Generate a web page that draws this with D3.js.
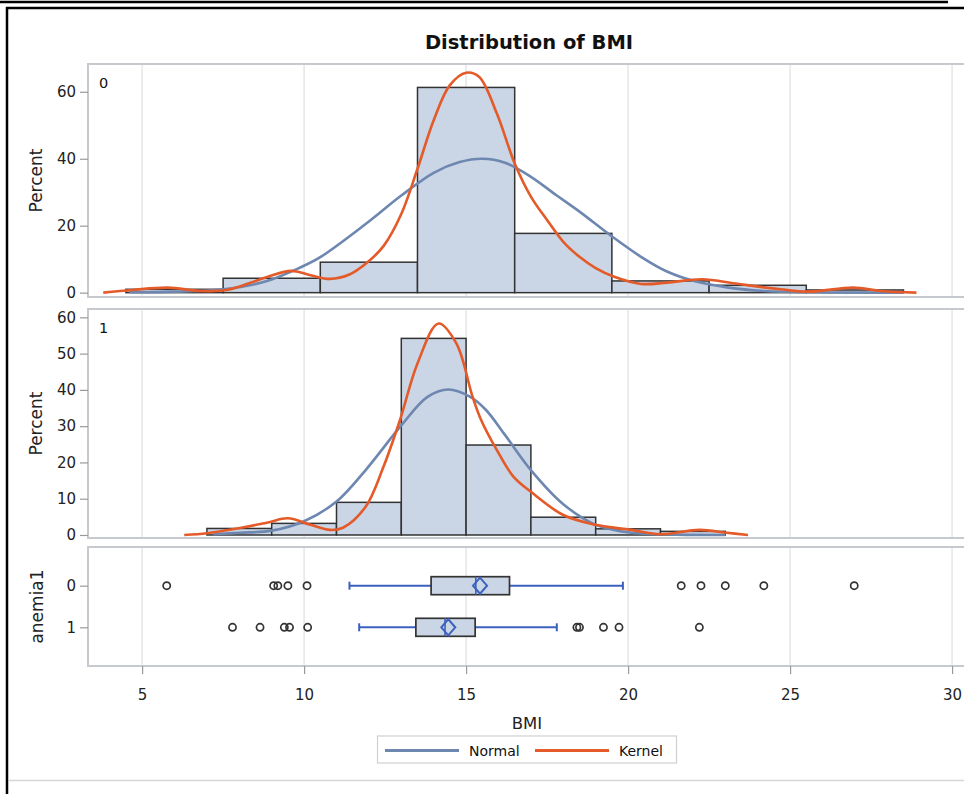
<!DOCTYPE html>
<html>
<head>
<meta charset="utf-8">
<script src="https://cdn.jsdelivr.net/npm/d3@7"></script>
<style>
  body { margin: 0; background: #fff; }
  text { font-family: "DejaVu Sans", sans-serif; fill: #222; }
</style>
</head>
<body>
<div id="chart"></div>
<script>
// histogram bins (BMI edges) and percents, per anemia1 group
const bins0 = [4.5, 7.5, 10.5, 13.5, 16.5, 19.5, 22.5, 25.5, 28.5];
const pct0 = [1.0, 4.3, 9.1, 61.3, 17.7, 3.5, 2.2, 0.8];
const bins1 = [7, 9, 11, 13, 15, 17, 19, 21, 23];
const pct1 = [1.8, 3.2, 9.0, 54.2, 24.8, 4.9, 1.7, 1.0];

// fitted curves: [BMI, percent]
const normal0 = [[4.6, 0.1], [6, 0.3], [7.5, 1.0], [8.8, 3.3], [9.9, 7.6], [10.5, 10.6], [11.9, 20.5],
  [13.0, 29.0], [14.0, 35.8], [14.8, 39.0], [15.5, 40.0], [16.2, 38.8], [17.0, 34.6], [17.8, 29.0],
  [18.5, 24.2], [19.5, 16.8], [20.4, 10.7], [21.2, 6.3], [22.1, 3.3], [23.1, 1.5], [24.2, 0.5], [25.7, 0.1], [28.5, 0]];
const kernel0 = [[3.8, 0], [4.7, 0.8], [5.8, 1.5], [6.8, 0.5], [7.6, 0.8], [8.3, 2.8], [8.9, 4.8], [9.6, 6.5],
  [10.2, 5.2], [10.8, 4.1], [11.4, 5.4], [11.9, 8.6], [12.45, 13.9], [13.0, 23.5], [13.5, 37.0], [14.0, 51.5],
  [14.5, 62], [15.0, 65.7], [15.4, 64.5], [15.95, 53.5], [16.5, 38.6], [17.0, 28.7], [17.5, 21.7], [18.0, 15.2],
  [18.5, 10.7], [19.0, 7.3], [19.55, 4.8], [20.4, 2.6], [21.2, 3.0], [22.3, 4.0], [23.25, 2.8], [24.7, 1.0],
  [25.6, 0.3], [26.95, 1.5], [27.8, 0.5], [28.9, 0]];
const normal1 = [[7.2, 0.2], [8.0, 0.6], [9.0, 1.2], [10.0, 3.8], [11.0, 9.2], [11.9, 17.9], [13.0, 30.2],
  [13.8, 38.0], [14.45, 40.1], [15.1, 38.2], [15.6, 34.6], [16.2, 27.6], [17.0, 17.9], [18.0, 8.5],
  [19.0, 2.8], [20.1, 0.6], [21.5, 0.1], [23.0, 0]];
const kernel1 = [[6.3, 0], [7.0, 0.5], [7.8, 1.6], [8.85, 3.4], [9.5, 4.6], [10.2, 2.8], [10.8, 1.4], [11.2, 2.0],
  [11.9, 7.8], [12.45, 18.8], [12.96, 31.7], [13.5, 47.3], [14.15, 58.3], [14.7, 52.8], [15.2, 38.1],
  [15.45, 32.0], [15.95, 23.4], [16.46, 16.1], [17.0, 11.9], [18.0, 5.5], [19.0, 2.8], [20.1, 1.4],
  [21.0, 0.2], [22.2, 1.4], [23.05, 0.6], [23.7, 0]];

// box plot stats by group
const groups = ["0", "1"];
const whiskLow = [11.4, 11.7];
const q1 = [13.92, 13.45];
const median = [15.3, 14.35];
const q3 = [16.34, 15.28];
const whiskHigh = [19.84, 17.8];
const means = [15.43, 14.45];
const outliers = [
  [5.76, 9.06, 9.19, 9.5, 10.09, 21.64, 22.25, 23.0, 24.19, 26.98],
  [7.79, 8.64, 9.39, 9.55, 10.11, 18.42, 18.5, 19.24, 19.72, 22.2]
];

const xTicks = [5, 10, 15, 20, 25, 30];
const yTicks0 = [0, 20, 40, 60];
const yTicks1 = [0, 10, 20, 30, 40, 50, 60];

const width = 964, height = 794;
const left = 88, right = 966;

const svg = d3.select("#chart").append("svg")
  .attr("width", width)
  .attr("height", height);

const x = d3.scaleLinear().domain([3.33, 30.43]).range([left, right]);

// page frame bits
svg.append("line").attr("x1", 0).attr("x2", 948).attr("y1", 2).attr("y2", 2)
  .attr("stroke", "#000").attr("stroke-width", 2.5);
svg.append("line").attr("x1", 6).attr("x2", width).attr("y1", 8).attr("y2", 8)
  .attr("stroke", "#000").attr("stroke-width", 2.5);
svg.append("line").attr("x1", 7).attr("x2", 7).attr("y1", 7).attr("y2", height)
  .attr("stroke", "#000").attr("stroke-width", 2.5);
svg.append("line").attr("x1", 9).attr("x2", width).attr("y1", 780.5).attr("y2", 780.5)
  .attr("stroke", "#d6d6d6").attr("stroke-width", 1.5);

svg.append("text")
  .attr("x", 529).attr("y", 49)
  .attr("text-anchor", "middle")
  .style("font-size", "19.5px").style("font-weight", "bold").style("fill", "#111")
  .text("Distribution of BMI");

function grid(g, y0, y1) {
  g.selectAll("line.grid").data(xTicks).enter().append("line")
    .attr("class", "grid")
    .attr("x1", d => x(d)).attr("x2", d => x(d))
    .attr("y1", y0).attr("y2", y1)
    .attr("stroke", "#e6e6e6").attr("stroke-width", 1.5);
}

function frame(g, y0, y1) {
  g.append("rect")
    .attr("x", left).attr("y", y0)
    .attr("width", right - left).attr("height", y1 - y0)
    .attr("fill", "none").attr("stroke", "#c6cacf").attr("stroke-width", 2);
}

function yAxis(g, y, ticks) {
  const ax = g.append("g")
    .attr("transform", `translate(${left},0)`)
    .call(d3.axisLeft(y).tickValues(ticks).tickSize(8).tickPadding(4));
  ax.select(".domain").remove();
  ax.selectAll(".tick line").attr("stroke", "#9a9a9a").attr("stroke-width", 1.2);
  ax.selectAll(".tick text").style("font-size", "15px").style("fill", "#222")
    .style("font-family", "DejaVu Sans");
}

function histPanel(y0, y1, domain, ticks, bins, pct, normal, kernel, label) {
  const g = svg.append("g");
  const y = d3.scaleLinear().domain(domain).range([y1, y0]);
  grid(g, y0, y1);

  const bars = pct.map((p, i) => ({ a: bins[i], b: bins[i + 1], p }));
  g.selectAll("rect.bar").data(bars).enter().append("rect")
    .attr("class", "bar")
    .attr("x", d => x(d.a))
    .attr("width", d => x(d.b) - x(d.a))
    .attr("y", d => y(d.p))
    .attr("height", d => y(0) - y(d.p))
    .attr("fill", "#cad5e5")
    .attr("stroke", "#333").attr("stroke-width", 1.5);

  const line = d3.line().x(d => x(d[0])).y(d => y(d[1])).curve(d3.curveCatmullRom.alpha(0.5));
  g.append("path").datum(normal).attr("d", line)
    .attr("fill", "none").attr("stroke", "#6d87b0").attr("stroke-width", 2.6);
  g.append("path").datum(kernel).attr("d", line)
    .attr("fill", "none").attr("stroke", "#e45a28").attr("stroke-width", 2.6);

  frame(g, y0, y1);
  yAxis(g, y, ticks);

  g.append("text").attr("x", 99).attr("y", y0 + 24)
    .style("font-size", "14.5px").style("fill", "#111").text(label);
  g.append("text")
    .attr("transform", `translate(41.5,${(y0 + y1) / 2}) rotate(-90)`)
    .attr("text-anchor", "middle")
    .style("font-size", "17px").style("fill", "#222")
    .text("Percent");
}

histPanel(64, 297, [-1.3, 68.3], yTicks0, bins0, pct0, normal0, kernel0, "0");
histPanel(309, 538, [-0.83, 62.3], yTicks1, bins1, pct1, normal1, kernel1, "1");

// box plot panel
const bTop = 547, bBot = 666;
const gb = svg.append("g");
const yb = d3.scalePoint().domain(groups).range([bTop, bBot]).padding(0.93);
grid(gb, bTop, bBot);

const boxes = groups.map((g, i) => ({
  g, lo: whiskLow[i], q1: q1[i], med: median[i], q3: q3[i], hi: whiskHigh[i], mean: means[i], out: outliers[i]
}));
const blue = "#3b60be";
const bh = 9;

boxes.forEach(b => {
  const cy = yb(b.g);
  gb.append("line").attr("x1", x(b.lo)).attr("x2", x(b.q1)).attr("y1", cy).attr("y2", cy)
    .attr("stroke", blue).attr("stroke-width", 2);
  gb.append("line").attr("x1", x(b.q3)).attr("x2", x(b.hi)).attr("y1", cy).attr("y2", cy)
    .attr("stroke", blue).attr("stroke-width", 2);
  [b.lo, b.hi].forEach(v => {
    gb.append("line").attr("x1", x(v)).attr("x2", x(v)).attr("y1", cy - 4).attr("y2", cy + 4)
      .attr("stroke", blue).attr("stroke-width", 2);
  });
  gb.append("rect")
    .attr("x", x(b.q1)).attr("y", cy - bh)
    .attr("width", x(b.q3) - x(b.q1)).attr("height", bh * 2)
    .attr("fill", "#cad5e5").attr("stroke", "#333").attr("stroke-width", 1.7);
  gb.append("line").attr("x1", x(b.med)).attr("x2", x(b.med)).attr("y1", cy - bh).attr("y2", cy + bh)
    .attr("stroke", blue).attr("stroke-width", 1.6);
  const mx = x(b.mean);
  gb.append("path")
    .attr("d", `M${mx - 7},${cy} L${mx},${cy - 8} L${mx + 7},${cy} L${mx},${cy + 8} Z`)
    .attr("fill", "none").attr("stroke", blue).attr("stroke-width", 2);
  gb.selectAll(null).data(b.out).enter().append("circle")
    .attr("cx", d => x(d)).attr("cy", cy).attr("r", 3.6)
    .attr("fill", "none").attr("stroke", "#333").attr("stroke-width", 1.7);
});

frame(gb, bTop, bBot);
yAxis(gb, yb, groups);

const xa = gb.append("g")
  .attr("transform", `translate(0,${bBot})`)
  .call(d3.axisBottom(x).tickValues(xTicks).tickSize(8).tickPadding(15));
xa.select(".domain").remove();
xa.selectAll(".tick line").attr("stroke", "#9a9a9a").attr("stroke-width", 1.2);
xa.selectAll(".tick text").style("font-size", "15px").style("fill", "#222")
  .style("font-family", "DejaVu Sans");

svg.append("text").attr("x", 527).attr("y", 729)
  .attr("text-anchor", "middle")
  .style("font-size", "16.5px").style("fill", "#222")
  .text("BMI");

svg.append("text")
  .attr("transform", `translate(42.5,${(bTop + bBot) / 2}) rotate(-90)`)
  .attr("text-anchor", "middle")
  .style("font-size", "17px").style("fill", "#222")
  .text("anemia1");

// legend
const legend = [
  { name: "Normal", color: "#6d87b0", x1: 385, x2: 459, tx: 469 },
  { name: "Kernel", color: "#e45a28", x1: 535, x2: 609, tx: 619 }
];
svg.append("rect").attr("x", 377.5).attr("y", 736).attr("width", 299).attr("height", 27)
  .attr("fill", "#fff").attr("stroke", "#d0d0d0").attr("stroke-width", 1.2);
const lg = svg.selectAll("g.leg").data(legend).enter().append("g").attr("class", "leg");
lg.append("line").attr("x1", d => d.x1).attr("x2", d => d.x2).attr("y1", 750.5).attr("y2", 750.5)
  .attr("stroke", d => d.color).attr("stroke-width", 3);
lg.append("text").attr("x", d => d.tx).attr("y", 755.5)
  .style("font-size", "14px").style("fill", "#111")
  .text(d => d.name);
</script>
</body>
</html>
